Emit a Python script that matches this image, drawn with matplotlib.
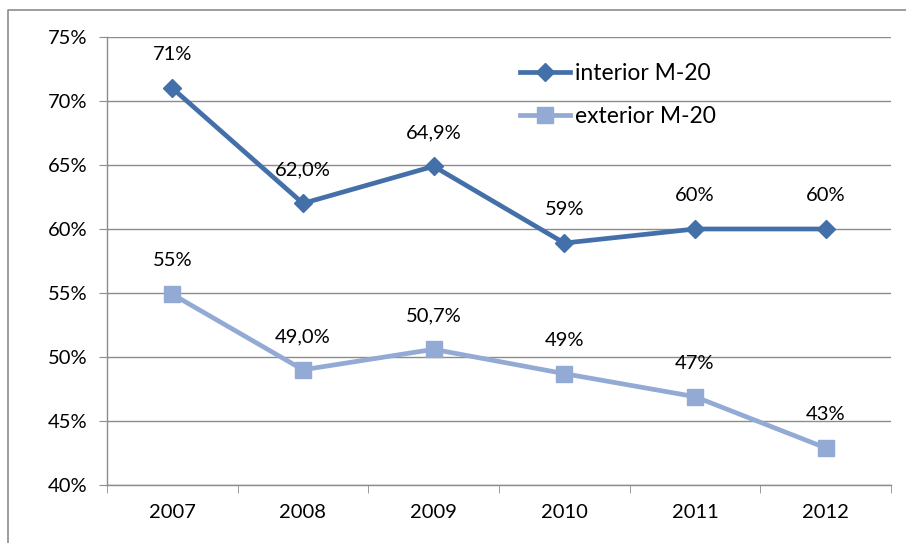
import matplotlib.pyplot as plt
from matplotlib.lines import Line2D

plt.rcParams['font.family'] = ['Lato', 'DejaVu Sans']

years = ['2007', '2008', '2009', '2010', '2011', '2012']
interior = [71.0, 62.0, 64.9, 58.9, 60.0, 60.0]
exterior = [54.9, 49.0, 50.6, 48.7, 46.9, 42.9]
interior_labels = ['71%', '62,0%', '64,9%', '59%', '60%', '60%']
exterior_labels = ['55%', '49,0%', '50,7%', '49%', '47%', '43%']
yticks = [40, 45, 50, 55, 60, 65, 70, 75]

c_int = '#4470AA'
c_ext = '#93AAD4'
grid_c = '#8c8c8c'

fig = plt.figure(figsize=(9.06, 5.43), dpi=100, facecolor='w')
ax = fig.add_axes([0.1181, 0.1068, 0.8653, 0.8251])

x = list(range(len(years)))
ax.plot(x, interior, color=c_int, lw=3.4, marker='D', ms=9.5, label='interior M-20')
ax.plot(x, exterior, color=c_ext, lw=3.4, marker='s', ms=11, label='exterior M-20')

# etiquetas de datos encima de cada punto
for xi, v, s in zip(x, interior, interior_labels):
    ax.annotate(s, (xi, v), xytext=(0, 24), textcoords='offset points',
                ha='center', va='center', fontsize=14.5)
for xi, v, s in zip(x, exterior, exterior_labels):
    ax.annotate(s, (xi, v), xytext=(0, 24), textcoords='offset points',
                ha='center', va='center', fontsize=14.5)

ax.set_xlim(-0.5, len(years) - 0.5)
ax.set_ylim(40, 75)
ax.set_yticks(yticks)
ax.set_yticklabels([f'{t}%' for t in yticks], fontsize=14.5)
ax.set_xticks(x)
ax.set_xticklabels(years, fontsize=14.5)
ax.set_xticks([i - 0.5 for i in range(len(years) + 1)], minor=True)
ax.tick_params(axis='x', which='major', length=0, pad=14)
ax.tick_params(axis='x', which='minor', length=6, color=grid_c, direction='out')
ax.tick_params(axis='y', length=6, color=grid_c, pad=8)

ax.grid(axis='y', color=grid_c, lw=1)
ax.set_axisbelow(True)
for side in ['top', 'right']:
    ax.spines[side].set_visible(False)
for side in ['left', 'bottom']:
    ax.spines[side].set_color(grid_c)
    ax.spines[side].set_linewidth(1)

ax.legend(loc='upper left', bbox_to_anchor=(0.515, 0.962), frameon=False,
          fontsize=16.5, handlelength=2.2, handletextpad=0.22, labelspacing=0.95,
          borderaxespad=0)

# marco exterior del gráfico
fig.add_artist(Line2D([8 / 906, 8 / 906, 1.0], [0.0, 1 - 10 / 543, 1 - 10 / 543],
                      transform=fig.transFigure, color=grid_c, lw=1.2))

fig.savefig('out.png', dpi=100)
